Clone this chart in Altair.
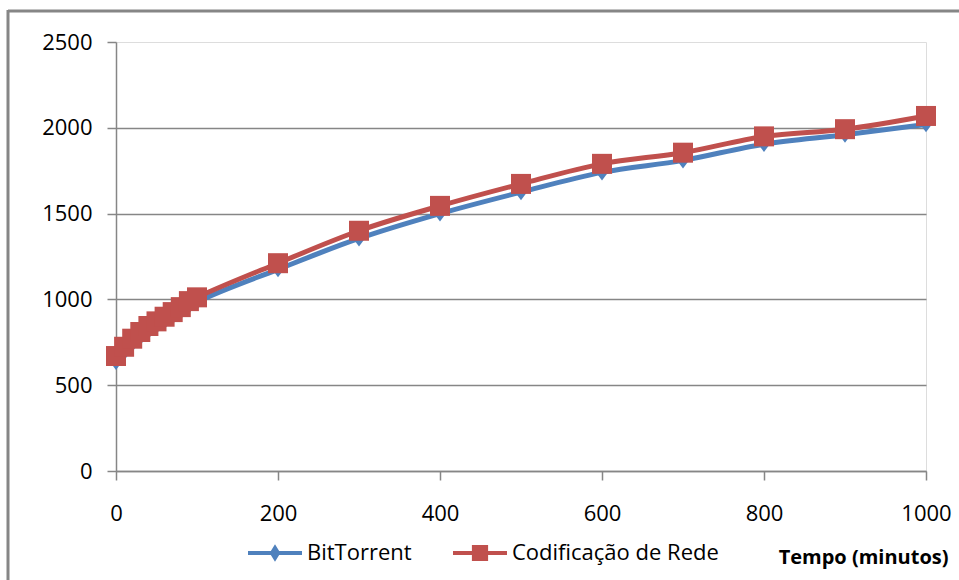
import altair as alt
import pandas as pd

# ---- data ----
tempo = [0, 10, 20, 30, 40, 50, 60, 70, 80, 90, 100, 200, 300, 400, 500, 600, 700, 800, 900, 1000]
bittorrent = [635, 690, 740, 780, 815, 845, 872, 900, 930, 962, 985, 1175, 1355, 1500, 1625, 1740, 1810, 1905, 1960, 2020]
codificacao = [670, 724, 771, 810, 845, 872, 899, 926, 955, 990, 1012, 1211, 1400, 1545, 1673, 1790, 1855, 1950, 1992, 2069]
series = ["BitTorrent", "Codificação de Rede"]
x_ticks = [0, 200, 400, 600, 800, 1000]
y_ticks = [0, 500, 1000, 1500, 2000, 2500]

colors = ["#4F81BD", "#C0504D"]
FONT = "Open Sans"

rows = []
for t, b, c in zip(tempo, bittorrent, codificacao):
    rows.append({"tempo": t, "valor": b, "serie": series[0]})
    rows.append({"tempo": t, "valor": c, "serie": series[1]})
df = pd.DataFrame(rows)

x_enc = alt.X(
    "tempo:Q",
    scale=alt.Scale(domain=[0, 1000], nice=False),
    axis=alt.Axis(
        values=x_ticks, format="d", grid=False, domainColor="#868686", domainWidth=1.5,
        tickColor="#868686", tickSize=9, tickWidth=1.5,
        labelFont=FONT, labelFontSize=22, labelColor="#000000", labelPadding=23,
        labelFlush=False,
        title="Tempo (minutos)", titleFont=FONT, titleFontSize=20, titleFontWeight="bold",
        titleColor="#000000", titleAnchor="end", titleAlign="right", titleBaseline="middle",
        titleX=832, titleY=86,
    ),
)
y_enc = alt.Y(
    "valor:Q",
    scale=alt.Scale(domain=[0, 2500], nice=False),
    axis=alt.Axis(
        values=y_ticks, format="d", grid=True, gridColor="#868686", gridWidth=1.5,
        gridOpacity={"condition": {"test": "datum.value >= 2500", "value": 0}, "value": 1},
        domainColor="#868686", domainWidth=1.5,
        tickColor="#868686", tickSize=9, tickWidth=1.5,
        labelFont=FONT, labelFontSize=22, labelColor="#000000", labelPadding=15,
        title=None,
    ),
)

base = alt.Chart(df)
layers = []
diamond = "M0,-1L0.75,0L0,1L-0.75,0Z"
for s, col, shp, size in [(series[0], colors[0], diamond, 256), (series[1], colors[1], "square", 400)]:
    sub = base.transform_filter(alt.datum.serie == s)
    layers.append(
        sub.mark_line(color=col, strokeWidth=5, interpolate="monotone").encode(x=x_enc, y=y_enc)
    )
    layers.append(
        sub.mark_point(color=col, filled=True, opacity=1, shape=shp, size=size, strokeWidth=0).encode(
            x=x_enc, y=y_enc
        )
    )

# legend (drawn by Vega-Lite from the series domain; no marks of its own)
leg_diamond = "M-1,-0.075H1V0.075H-1Z M0,-0.32L0.2,0L0,0.32L-0.2,0Z"
leg_square = "M-1,-0.075H1V0.075H-1Z M-0.3,-0.3H0.3V0.3H-0.3Z"
legend = alt.Legend(
    title=None, orient="none", direction="horizontal", legendX=132, legendY=484,
    symbolSize=2916, symbolStrokeWidth=0, symbolOpacity=1,
    labelFont=FONT, labelFontSize=22, labelColor="#000000", labelOffset=5, labelLimit=500,
    columnPadding=41, padding=0,
)
legend_layer = base.transform_filter("false").mark_point(filled=True, opacity=1).encode(
    x=x_enc, y=y_enc,
    color=alt.Color("serie:N", scale=alt.Scale(domain=series, range=colors), legend=legend),
    shape=alt.Shape("serie:N", scale=alt.Scale(domain=series, range=[leg_diamond, leg_square]), legend=legend),
)

# outer frame (top and left edges of the Excel chart area)
frame_src = alt.Chart(alt.Data(values=[{}]))
frame_top = frame_src.mark_rule(color="#868686", strokeWidth=3).encode(
    x=alt.value(-108), x2=alt.value(900), y=alt.value(-31)
)
frame_left = frame_src.mark_rule(color="#868686", strokeWidth=3).encode(
    x=alt.value(-108), y=alt.value(-32), y2=alt.value(600)
)

chart = alt.layer(frame_top, frame_left, *layers, legend_layer).properties(
    width=810, height=429,
    autosize=alt.AutoSizeParams(type="none"),
    padding={"left": 116, "top": 42, "right": 33, "bottom": 109},
).configure_view(stroke=None).configure(background="#FFFFFF")

chart.save("out.html", embed_options={"renderer": "svg", "actions": False})
